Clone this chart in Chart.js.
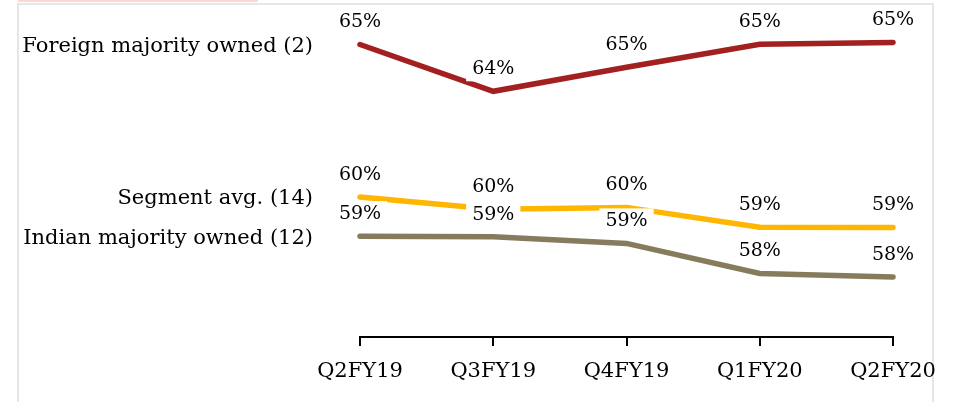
<!DOCTYPE html>
<html>
<head>
    <title>Segment share by ownership</title>
    <script src="https://cdn.jsdelivr.net/npm/chart.js"></script>
    <style>
        body { margin: 0; background: #fff; }
        #share-chart { display: block; }
    </style>
</head>
<body>
<canvas id="share-chart" width="955" height="402"></canvas>
<script>
    // Quarters on the x axis
    const quarters = ['Q2FY19', 'Q3FY19', 'Q4FY19', 'Q1FY20', 'Q2FY20'];

    // Share per quarter (%), labels show rounded values
    const foreignOwned = [65.35, 63.79, 64.59, 65.36, 65.42];
    const segmentAvg = [60.27, 59.86, 59.92, 59.26, 59.25];
    const indianOwned = [58.96, 58.94, 58.72, 57.72, 57.60];

    const seriesNames = ['Foreign majority owned (2)', 'Segment avg. (14)', 'Indian majority owned (12)'];
    const seriesColors = ['#a32020', '#ffb600', '#867c5d'];

    const serif = '"DejaVu Serif", Georgia, serif';

    // Frame round the chart plus the thin pink strip at the top
    const framePlugin = {
        id: 'frame',
        beforeDraw(chart) {
            const ctx = chart.ctx;
            ctx.save();
            ctx.fillStyle = '#ffd6d6';
            ctx.fillRect(18, 0, 240, 2);
            ctx.strokeStyle = '#e6e6e6';
            ctx.lineWidth = 2;
            ctx.beginPath();
            ctx.moveTo(18, 410);
            ctx.lineTo(18, 4);
            ctx.lineTo(933, 4);
            ctx.lineTo(933, 410);
            ctx.stroke();
            ctx.restore();
        }
    };

    // Value labels above each point (white box behind) and series names on the left
    const labelPlugin = {
        id: 'pointLabels',
        afterDatasetsDraw(chart) {
            const ctx = chart.ctx;
            ctx.save();
            ctx.font = '19px ' + serif;
            ctx.textAlign = 'center';
            ctx.textBaseline = 'middle';
            chart.data.datasets.forEach((ds, i) => {
                const meta = chart.getDatasetMeta(i);
                meta.data.forEach((pt, j) => {
                    const text = Math.round(ds.data[j]) + '%';
                    const w = ctx.measureText(text).width + 12;
                    const y = pt.y - 22;
                    ctx.fillStyle = '#fff';
                    ctx.fillRect(pt.x - w / 2, y - 13, w, 25);
                    ctx.fillStyle = '#000';
                    ctx.fillText(text, pt.x, y);
                });
            });

            ctx.font = '21px ' + serif;
            ctx.textAlign = 'right';
            chart.data.datasets.forEach((ds, i) => {
                const first = chart.getDatasetMeta(i).data[0];
                ctx.fillStyle = '#000';
                ctx.fillText(seriesNames[i], 313, first.y + 2);
            });
            ctx.restore();
        }
    };

    function makeDataset(idx, values) {
        return {
            label: seriesNames[idx],
            data: values,
            borderColor: seriesColors[idx],
            borderWidth: 5.5,
            borderCapStyle: 'round',
            borderJoinStyle: 'miter',
            pointRadius: 0,
            tension: 0,
            fill: false,
            clip: false
        };
    }

    new Chart(document.getElementById('share-chart').getContext('2d'), {
        type: 'line',
        data: {
            labels: quarters,
            datasets: [
                makeDataset(0, foreignOwned),
                makeDataset(1, segmentAvg),
                makeDataset(2, indianOwned)
            ]
        },
        options: {
            responsive: false,
            animation: false,
            layout: {
                padding: { left: 360, right: 62, top: 10, bottom: 0 }
            },
            plugins: {
                legend: { display: false },
                tooltip: { enabled: false }
            },
            scales: {
                x: {
                    offset: false,
                    afterFit(scale) { scale.height = 65; },
                    border: { display: true, color: '#000', width: 2 },
                    grid: {
                        drawOnChartArea: false,
                        drawTicks: true,
                        tickLength: 9,
                        color: '#000',
                        lineWidth: 2
                    },
                    ticks: {
                        color: '#000',
                        padding: 13,
                        maxRotation: 0,
                        autoSkip: false,
                        font: { family: serif, size: 21 }
                    }
                },
                y: {
                    display: false,
                    min: 55.6,
                    max: 66.5
                }
            }
        },
        plugins: [framePlugin, labelPlugin]
    });
</script>
</body>
</html>
